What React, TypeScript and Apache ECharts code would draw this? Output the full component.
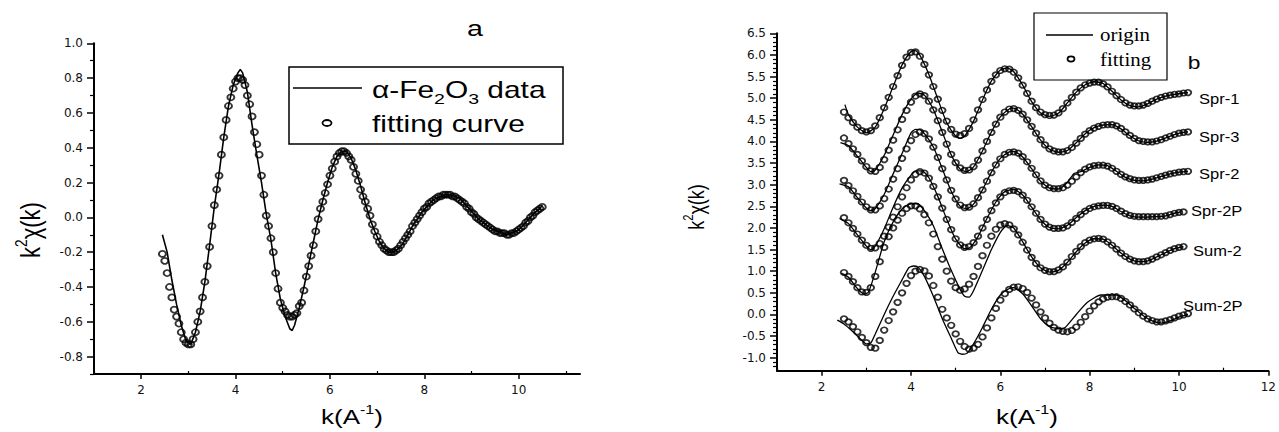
import React, { useEffect, useRef } from 'react';
import * as echarts from 'echarts';

// ================= Panel a : alpha-Fe2O3 =================
const lineA: number[][] = [
  [2.45,-0.10],[2.55,-0.20],[2.65,-0.36],[2.75,-0.50],[2.85,-0.62],[2.95,-0.71],[3.05,-0.73],[3.15,-0.66],[3.25,-0.54],[3.35,-0.37],
  [3.45,-0.16],[3.55,0.06],[3.65,0.25],[3.75,0.46],[3.85,0.64],[3.95,0.76],[4.05,0.83],[4.10,0.85],[4.15,0.83],[4.25,0.72],
  [4.35,0.53],[4.45,0.36],[4.55,0.20],[4.65,0.02],[4.75,-0.13],[4.85,-0.32],[4.95,-0.47],[5.05,-0.57],[5.15,-0.64],[5.20,-0.65],
  [5.25,-0.62],[5.35,-0.52],[5.45,-0.40],[5.55,-0.27],[5.65,-0.14],[5.75,-0.01],[5.85,0.10],[5.95,0.20],[6.05,0.29],[6.15,0.35],
  [6.25,0.38],[6.35,0.38],[6.45,0.34],[6.55,0.27],[6.65,0.18],[6.75,0.08],[6.85,-0.01],[6.95,-0.08],[7.05,-0.14],[7.15,-0.18],
  [7.25,-0.20],[7.35,-0.20],[7.45,-0.18],[7.55,-0.15],[7.65,-0.10],[7.75,-0.05],[7.85,-0.01],[7.95,0.03],[8.05,0.06],[8.15,0.09],
  [8.25,0.11],[8.35,0.12],[8.45,0.13],[8.55,0.13],[8.65,0.12],[8.75,0.11],[8.85,0.08],[8.95,0.05],[9.05,0.02],[9.15,-0.01],
  [9.25,-0.03],[9.35,-0.05],[9.45,-0.07],[9.55,-0.08],[9.65,-0.09],[9.75,-0.10],[9.85,-0.09],[9.95,-0.08],[10.05,-0.06],[10.15,-0.03],
  [10.25,0.00],[10.35,0.03],[10.45,0.05],[10.50,0.07]
];

const fitA: number[][] = [
  [2.45,-0.21],[2.50,-0.25],[2.55,-0.32],[2.60,-0.40],[2.65,-0.46],[2.70,-0.53],[2.75,-0.57],[2.80,-0.61],[2.85,-0.66],[2.90,-0.70],
  [2.95,-0.72],[3.00,-0.73],[3.05,-0.73],[3.10,-0.70],[3.15,-0.66],[3.20,-0.60],[3.25,-0.54],[3.30,-0.46],[3.35,-0.37],[3.40,-0.28],
  [3.45,-0.17],[3.50,-0.05],[3.55,0.07],[3.60,0.16],[3.65,0.24],[3.70,0.36],[3.75,0.46],[3.80,0.56],[3.85,0.64],[3.90,0.69],
  [3.95,0.74],[4.00,0.78],[4.05,0.80],[4.10,0.80],[4.15,0.79],[4.20,0.76],[4.25,0.70],[4.30,0.65],[4.35,0.58],[4.40,0.49],
  [4.45,0.42],[4.50,0.36],[4.55,0.24],[4.60,0.13],[4.65,0.01],[4.70,-0.05],[4.75,-0.12],[4.80,-0.20],[4.85,-0.32],[4.90,-0.41],
  [4.95,-0.49],[5.00,-0.52],[5.05,-0.54],[5.10,-0.56],[5.15,-0.57],[5.20,-0.57],[5.25,-0.56],[5.30,-0.55],[5.35,-0.51],[5.40,-0.49],
  [5.45,-0.42],[5.50,-0.34],[5.55,-0.28],[5.60,-0.22],[5.65,-0.16],[5.70,-0.08],[5.75,-0.01],[5.80,0.05],[5.85,0.09],[5.90,0.14],
  [5.95,0.19],[6.00,0.24],[6.05,0.28],[6.10,0.32],[6.15,0.35],[6.20,0.37],[6.25,0.38],[6.30,0.38],[6.35,0.37],[6.40,0.35],
  [6.45,0.33],[6.50,0.29],[6.55,0.25],[6.60,0.21],[6.65,0.16],[6.70,0.12],[6.75,0.09],[6.80,0.05],[6.85,0.01],[6.90,-0.04],
  [6.95,-0.08],[7.00,-0.11],[7.05,-0.14],[7.10,-0.16],[7.15,-0.18],[7.20,-0.19],[7.25,-0.20],[7.30,-0.20],[7.35,-0.20],[7.40,-0.19],
  [7.45,-0.18],[7.50,-0.16],[7.55,-0.14],[7.60,-0.12],[7.65,-0.10],[7.70,-0.08],[7.75,-0.05],[7.80,-0.03],[7.85,-0.01],[7.90,0.01],
  [7.95,0.03],[8.00,0.05],[8.05,0.06],[8.10,0.08],[8.15,0.09],[8.20,0.10],[8.25,0.11],[8.30,0.12],[8.35,0.12],[8.40,0.13],
  [8.45,0.13],[8.50,0.13],[8.55,0.13],[8.60,0.12],[8.65,0.12],[8.70,0.11],[8.75,0.10],[8.80,0.09],[8.85,0.08],[8.90,0.06],
  [8.95,0.05],[9.00,0.03],[9.05,0.02],[9.10,0.00],[9.15,-0.01],[9.20,-0.02],[9.25,-0.03],[9.30,-0.04],[9.35,-0.05],[9.40,-0.06],
  [9.45,-0.07],[9.50,-0.08],[9.55,-0.08],[9.60,-0.09],[9.65,-0.09],[9.70,-0.09],[9.75,-0.10],[9.80,-0.10],[9.85,-0.09],[9.90,-0.09],
  [9.95,-0.08],[10.00,-0.07],[10.05,-0.06],[10.10,-0.05],[10.15,-0.03],[10.20,-0.02],[10.25,0.00],[10.30,0.01],[10.35,0.03],[10.40,0.04],
  [10.45,0.05],[10.50,0.06]
];

const xMajorA = [2, 4, 6, 8, 10];
const xMinorA = [1, 3, 5, 7, 9, 11];
const yMajorA = [-0.8, -0.6, -0.4, -0.2, 0, 0.2, 0.4, 0.6, 0.8, 1.0];
const yMinorA = [-0.9, -0.7, -0.5, -0.3, -0.1, 0.1, 0.3, 0.5, 0.7, 0.9];

// ================= Panel b : samples =================
const samplesB = ['Spr-1', 'Spr-3', 'Spr-2', 'Spr-2P', 'Sum-2', 'Sum-2P'];

const kFitB = [
  2.5,2.6,2.7,2.8,2.9,3.0,3.1,3.2,3.3,3.4,
  3.5,3.6,3.7,3.8,3.9,4.0,4.1,4.2,4.3,4.4,
  4.5,4.6,4.7,4.8,4.9,5.0,5.1,5.2,5.3,5.4,
  5.5,5.6,5.7,5.8,5.9,6.0,6.1,6.2,6.3,6.4,
  6.5,6.6,6.7,6.8,6.9,7.0,7.1,7.2,7.3,7.4,
  7.5,7.6,7.7,7.8,7.9,8.0,8.1,8.2,8.3,8.4,
  8.5,8.6,8.7,8.8,8.9,9.0,9.1,9.2,9.3,9.4,
  9.5,9.6,9.7,9.8,9.9,10.0,10.1,10.2
];

const fitSpr1 = [
  4.68,4.55,4.44,4.33,4.25,4.22,4.25,4.36,4.55,4.78,
  5.02,5.27,5.52,5.76,5.95,6.06,6.07,5.97,5.78,5.54,
  5.27,4.98,4.72,4.47,4.28,4.17,4.14,4.18,4.30,4.50,
  4.73,4.97,5.19,5.39,5.54,5.64,5.68,5.67,5.60,5.47,
  5.30,5.11,4.93,4.78,4.68,4.62,4.60,4.61,4.66,4.76,
  4.89,5.02,5.14,5.24,5.31,5.35,5.37,5.37,5.33,5.26,
  5.16,5.06,4.97,4.89,4.84,4.82,4.82,4.84,4.88,4.93,
  4.98,5.02,5.05,5.07,5.09,5.10,5.12,5.13
];
const fitSpr3 = [
  4.08,3.95,3.83,3.70,3.55,3.42,3.32,3.31,3.40,3.58,
  3.80,4.03,4.27,4.51,4.72,4.91,5.05,5.10,5.06,4.93,
  4.73,4.48,4.21,3.94,3.70,3.51,3.39,3.33,3.34,3.42,
  3.57,3.78,4.00,4.21,4.40,4.56,4.68,4.75,4.76,4.72,
  4.63,4.50,4.35,4.19,4.04,3.92,3.83,3.78,3.76,3.76,
  3.79,3.86,3.96,4.07,4.17,4.25,4.31,4.35,4.38,4.39,
  4.39,4.36,4.30,4.22,4.14,4.07,4.02,4.00,3.99,3.99,
  4.01,4.04,4.08,4.12,4.16,4.19,4.21,4.22
];
const fitSpr2 = [
  3.10,2.98,2.86,2.73,2.60,2.49,2.42,2.42,2.51,2.68,
  2.90,3.13,3.37,3.61,3.83,4.02,4.16,4.22,4.18,4.06,
  3.87,3.63,3.37,3.11,2.87,2.67,2.53,2.47,2.48,2.56,
  2.70,2.88,3.08,3.28,3.46,3.60,3.70,3.75,3.76,3.73,
  3.65,3.53,3.38,3.23,3.09,2.99,2.93,2.91,2.91,2.93,
  2.99,3.08,3.18,3.28,3.36,3.41,3.44,3.45,3.45,3.43,
  3.38,3.31,3.24,3.18,3.14,3.11,3.10,3.10,3.11,3.13,
  3.16,3.19,3.22,3.25,3.27,3.29,3.30,3.31
];
const fitSpr2P = [
  2.24,2.12,1.99,1.86,1.72,1.60,1.53,1.54,1.64,1.81,
  2.02,2.25,2.49,2.72,2.93,3.11,3.24,3.30,3.27,3.15,
  2.96,2.72,2.46,2.20,1.96,1.75,1.61,1.55,1.57,1.66,
  1.81,2.00,2.20,2.40,2.58,2.72,2.82,2.86,2.87,2.84,
  2.76,2.64,2.49,2.34,2.20,2.09,2.02,1.99,1.99,2.00,
  2.05,2.13,2.22,2.31,2.39,2.45,2.49,2.51,2.52,2.52,
  2.50,2.45,2.39,2.33,2.29,2.27,2.26,2.26,2.26,2.26,
  2.26,2.27,2.28,2.31,2.34,2.36,2.37,null
];
const fitSum2 = [
  0.97,0.88,0.76,0.62,0.52,0.51,0.62,0.88,1.22,1.55,
  1.80,2.00,2.18,2.34,2.45,2.51,2.51,2.44,2.31,2.12,
  1.86,1.57,1.28,1.00,0.77,0.62,0.56,0.59,0.70,0.88,
  1.11,1.36,1.60,1.81,1.97,2.07,2.10,2.07,1.98,1.84,
  1.67,1.49,1.32,1.18,1.08,1.02,0.99,0.99,1.03,1.10,
  1.21,1.34,1.46,1.57,1.66,1.72,1.75,1.76,1.74,1.68,
  1.60,1.51,1.42,1.34,1.28,1.24,1.22,1.22,1.24,1.28,
  1.33,1.38,1.43,1.48,1.52,1.55,1.57,null
];
const fitSum2P = [
  -0.10,-0.17,-0.28,-0.40,-0.53,-0.65,-0.76,-0.78,-0.60,-0.36,
  -0.14,0.06,0.28,0.50,0.72,0.90,1.00,1.04,1.01,0.89,
  0.67,0.40,0.12,-0.08,-0.25,-0.45,-0.62,-0.74,-0.80,-0.78,
  -0.69,-0.52,-0.31,-0.08,0.14,0.33,0.48,0.58,0.63,0.64,
  0.60,0.51,0.38,0.22,0.06,-0.08,-0.20,-0.30,-0.36,-0.39,
  -0.40,-0.37,-0.29,-0.18,-0.05,0.08,0.20,0.29,0.36,0.40,
  0.41,0.41,0.37,0.30,0.22,0.13,0.04,-0.04,-0.10,-0.14,
  -0.17,-0.17,-0.15,-0.12,-0.08,-0.04,-0.01,0.02
];

const lineSpr1: number[][] = [
  [2.52,4.85],[2.6,4.62],[2.8,4.33],[3.0,4.20],[3.2,4.33],[3.4,4.76],[3.6,5.27],[3.8,5.77],[4.0,6.08],[4.1,6.10],
  [4.2,5.99],[4.4,5.55],[4.6,4.98],[4.8,4.43],[5.0,4.12],[5.1,4.07],[5.2,4.12],[5.4,4.47],[5.6,4.96],[5.8,5.40],
  [6.0,5.65],[6.15,5.70],[6.3,5.61],[6.5,5.30],[6.7,4.92],[6.9,4.66],[7.1,4.58],[7.3,4.65],[7.5,4.89],[7.7,5.14],
  [7.9,5.31],[8.1,5.38],[8.3,5.34],[8.5,5.16],[8.7,4.96],[8.9,4.83],[9.1,4.80],[9.3,4.87],[9.5,4.98],[9.7,5.05],
  [9.9,5.09],[10.1,5.12],[10.2,5.13]
];
const lineSpr3: number[][] = [
  [2.42,3.97],[2.6,3.90],[2.8,3.66],[3.0,3.40],[3.1,3.30],[3.2,3.34],[3.4,3.68],[3.6,4.15],[3.8,4.62],[4.0,4.98],
  [4.15,5.12],[4.3,5.07],[4.5,4.74],[4.7,4.22],[4.9,3.69],[5.1,3.36],[5.25,3.30],[5.4,3.41],[5.6,3.78],[5.8,4.22],
  [6.0,4.57],[6.2,4.75],[6.3,4.77],[6.5,4.63],[6.7,4.34],[6.9,4.03],[7.1,3.82],[7.3,3.75],[7.5,3.79],[7.7,3.97],
  [7.9,4.18],[8.1,4.32],[8.3,4.38],[8.5,4.39],[8.7,4.29],[8.9,4.13],[9.1,4.01],[9.3,3.98],[9.5,4.01],[9.7,4.08],
  [9.9,4.16],[10.1,4.21],[10.2,4.22]
];
const lineSpr2: number[][] = [
  [2.4,3.02],[2.6,2.95],[2.8,2.70],[3.0,2.46],[3.1,2.40],[3.2,2.45],[3.4,2.78],[3.6,3.25],[3.8,3.72],[4.0,4.20],
  [4.1,4.28],[4.2,4.27],[4.3,4.18],[4.5,3.87],[4.7,3.37],[4.9,2.85],[5.1,2.50],[5.25,2.44],[5.4,2.55],[5.6,2.88],
  [5.8,3.29],[6.0,3.61],[6.2,3.76],[6.3,3.77],[6.5,3.64],[6.7,3.37],[6.9,3.08],[7.1,2.92],[7.3,2.90],[7.5,3.05],
  [7.65,3.26],[7.8,3.30],[8.0,3.40],[8.2,3.46],[8.4,3.44],[8.6,3.31],[8.8,3.17],[9.0,3.10],[9.2,3.09],[9.4,3.13],
  [9.6,3.19],[9.8,3.25],[10.0,3.29],[10.2,3.31]
];
const lineSpr2P: number[][] = [
  [2.4,2.22],[2.6,2.10],[2.8,1.84],[3.0,1.58],[3.1,1.50],[3.2,1.58],[3.4,1.98],[3.6,2.48],[3.8,2.92],[4.0,3.22],
  [4.1,3.32],[4.25,3.32],[4.4,3.16],[4.6,2.73],[4.8,2.20],[5.0,1.74],[5.2,1.52],[5.3,1.53],[5.5,1.80],[5.7,2.22],
  [5.9,2.60],[6.1,2.84],[6.3,2.89],[6.5,2.76],[6.7,2.48],[6.9,2.19],[7.1,2.01],[7.3,1.98],[7.5,2.06],[7.7,2.24],
  [7.9,2.40],[8.1,2.50],[8.3,2.53],[8.5,2.50],[8.7,2.38],[8.9,2.28],[9.1,2.25],[9.3,2.25],[9.5,2.26],[9.7,2.28],
  [9.9,2.34],[10.05,2.37]
];
const lineSum2: number[][] = [
  [2.45,0.95],[2.6,0.86],[2.8,0.60],[2.95,0.47],[3.05,0.52],[3.2,0.98],[3.4,1.68],[3.6,2.14],[3.8,2.44],[4.0,2.56],
  [4.15,2.56],[4.3,2.40],[4.5,2.05],[4.7,1.52],[4.9,1.02],[5.1,0.58],[5.2,0.42],[5.3,0.40],[5.4,0.55],[5.6,1.02],
  [5.8,1.50],[6.0,1.90],[6.15,2.06],[6.3,2.00],[6.5,1.68],[6.7,1.33],[6.9,1.08],[7.1,0.98],[7.3,1.02],[7.5,1.20],
  [7.7,1.45],[7.9,1.65],[8.1,1.75],[8.3,1.74],[8.5,1.60],[8.7,1.42],[8.9,1.28],[9.1,1.22],[9.3,1.24],[9.5,1.33],
  [9.7,1.43],[9.9,1.52],[10.1,1.57]
];
const lineSum2P: number[][] = [
  [2.35,-0.13],[2.5,-0.22],[2.7,-0.40],[2.9,-0.60],[3.0,-0.68],[3.1,-0.66],[3.2,-0.45],[3.4,0.00],[3.6,0.42],[3.8,0.80],
  [3.95,1.08],[4.05,1.12],[4.15,1.10],[4.3,0.88],[4.5,0.42],[4.7,-0.10],[4.9,-0.55],[5.05,-0.88],[5.15,-0.92],[5.25,-0.90],
  [5.4,-0.68],[5.6,-0.30],[5.8,0.12],[6.0,0.45],[6.2,0.60],[6.3,0.62],[6.5,0.48],[6.7,0.20],[6.9,-0.10],[7.1,-0.28],
  [7.3,-0.33],[7.45,-0.30],[7.7,0.00],[7.95,0.28],[8.25,0.45],[8.6,0.45],[8.8,0.32],[9.0,0.14],[9.2,-0.03],[9.4,-0.15],
  [9.6,-0.20],[9.8,-0.15],[10.0,-0.06],[10.2,0.00]
];

const fitsB = [fitSpr1, fitSpr3, fitSpr2, fitSpr2P, fitSum2, fitSum2P];
const linesB = [lineSpr1, lineSpr3, lineSpr2, lineSpr2P, lineSum2, lineSum2P];

const xMajorB = [2, 4, 6, 8, 10, 12];
const xMinorB = [1, 3, 5, 7, 9, 11];
const yMajorB = [-1.0, -0.5, 0, 0.5, 1.0, 1.5, 2.0, 2.5, 3.0, 3.5, 4.0, 4.5, 5.0, 5.5, 6.0, 6.5];

// sample label anchors (left edge, vertical centre) in px
const sampleLabelPos = [
  [1199, 99], [1199, 137], [1199, 174], [1191, 211], [1193, 251], [1183, 306]
];

const SANS = 'Liberation Sans, Arial, sans-serif';
const SERIF = 'Liberation Serif, Times New Roman, serif';
const TICKFONT = 'DejaVu Sans, sans-serif';

function yMinorTicksB(): number[] {
  const out: number[] = [];
  for (let i = -12; i <= 64; i++) {
    if (i % 5 !== 0) out.push(i / 10);
  }
  return out;
}

function axisPair(dim: 'x' | 'y', grid: number, min: number, max: number, major: number[], minor: number[], fmt: (v: number) => string) {
  const pos = dim === 'x' ? 'bottom' : 'left';
  const base = { gridIndex: grid, type: 'value', min, max, position: pos, splitLine: { show: false } };
  const majorAxis = {
    ...base,
    axisLine: { show: true, onZero: false, lineStyle: { color: '#000', width: 2 } },
    axisTick: { show: true, customValues: major, length: dim === 'x' ? 5 : 7, lineStyle: { color: '#000', width: 1.5 } },
    axisLabel: {
      show: true, customValues: major, formatter: fmt, color: '#111',
      fontFamily: TICKFONT, fontSize: 12, margin: dim === 'x' ? 10 : 11,
    },
  };
  const minorAxis = {
    ...base,
    axisLine: { show: false, onZero: false },
    axisTick: { show: true, customValues: minor, inside: dim === 'x', length: dim === 'x' ? 3 : 4, lineStyle: { color: '#000', width: 1.2 } },
    axisLabel: { show: false },
  };
  return [majorAxis, minorAxis];
}

function text(x: number, y: number, str: string, size: number, opts: any = {}) {
  return {
    type: 'text', x, y, scaleX: opts.scaleX ?? 1, scaleY: opts.scaleY ?? 1, rotation: opts.rotation ?? 0,
    style: {
      text: str, fill: '#000', fontSize: size, fontFamily: opts.font ?? SANS,
      align: opts.align ?? 'left', verticalAlign: 'middle', rich: opts.rich,
    },
  };
}

function supRich(size: number) {
  return {
    n: { fontSize: size, fontFamily: SANS, lineHeight: size * 1.3, fill: '#000' },
    s: { fontSize: size * 0.62, fontFamily: SANS, lineHeight: size * 0.62, verticalAlign: 'top', fill: '#000' },
  };
}

function buildOption() {
  const oneDec = (v: number) => v.toFixed(1);
  const intFmt = (v: number) => String(Math.round(v));

  const [xa0, xa1] = axisPair('x', 0, 1, 11.3, xMajorA, xMinorA, intFmt);
  const [ya0, ya1] = axisPair('y', 0, -0.9, 1.0, yMajorA, yMinorA, oneDec);
  const [xb0, xb1] = axisPair('x', 1, 1, 12, xMajorB, xMinorB, intFmt);
  const [yb0, yb1] = axisPair('y', 1, -1.3, 6.5, yMajorB, yMinorTicksB(), oneDec);

  const hollow = { color: 'rgba(0,0,0,0)', borderColor: '#000', borderWidth: 1.8 };

  const series: any[] = [
    {
      type: 'line', name: 'α-Fe2O3 data', xAxisIndex: 0, yAxisIndex: 0, data: lineA,
      showSymbol: false, symbol: 'none', lineStyle: { color: '#000', width: 1.6 }, z: 2,
    },
    {
      type: 'scatter', name: 'fitting curve', xAxisIndex: 0, yAxisIndex: 0, data: fitA,
      symbol: 'circle', symbolSize: [7, 6], itemStyle: hollow, z: 3,
    },
  ];

  samplesB.forEach((name, i) => {
    series.push({
      type: 'line', name: name + ' origin', xAxisIndex: 2, yAxisIndex: 2, data: linesB[i],
      showSymbol: false, symbol: 'none', smooth: 0.2, lineStyle: { color: '#000', width: 1.3 }, z: 2,
    });
    const pts: number[][] = [];
    kFitB.forEach((k, j) => {
      const v = fitsB[i][j];
      if (v !== null && v !== undefined) pts.push([k, v]);
    });
    series.push({
      type: 'scatter', name: name + ' fitting', xAxisIndex: 2, yAxisIndex: 2, data: pts,
      symbol: 'circle', symbolSize: [6.5, 5.5], itemStyle: { ...hollow, borderWidth: 1.8 }, z: 3,
    });
  });

  const legendA = [
    { type: 'rect', shape: { x: 289, y: 67, width: 274, height: 77 }, style: { fill: 'none', stroke: '#000', lineWidth: 1.5 } },
    { type: 'line', shape: { x1: 293, y1: 88, x2: 362, y2: 88 }, style: { stroke: '#000', lineWidth: 1.6 } },
    { type: 'ellipse', shape: { cx: 327, cy: 123, rx: 4.5, ry: 3 }, style: { fill: 'none', stroke: '#000', lineWidth: 1.8 } },
    text(372, 90, '{n|α-Fe}{b|2}{n|O}{b|3}{n| data}', 23, {
      scaleX: 1.3,
      rich: {
        n: { fontSize: 23, fontFamily: SANS, lineHeight: 32, fill: '#000' },
        b: { fontSize: 15, fontFamily: SANS, lineHeight: 10, verticalAlign: 'bottom', fill: '#000' },
      },
    }),
    text(372, 124, 'fitting curve', 23, { scaleX: 1.3 }),
  ];

  const legendB = [
    { type: 'rect', shape: { x: 1034, y: 13, width: 133, height: 67 }, style: { fill: 'none', stroke: '#000', lineWidth: 1.2 } },
    { type: 'line', shape: { x1: 1046, y1: 35, x2: 1093, y2: 35 }, style: { stroke: '#000', lineWidth: 1.4 } },
    { type: 'ellipse', shape: { cx: 1071, cy: 59, rx: 3.5, ry: 2.6 }, style: { fill: 'none', stroke: '#000', lineWidth: 1.7 } },
    text(1100, 34, 'origin', 19, { font: SERIF, scaleX: 1.1 }),
    text(1100, 59, 'fitting', 19, { font: SERIF, scaleX: 1.1 }),
  ];

  const names = [
    text(475, 28, 'a', 22, { align: 'center', scaleX: 1.3 }),
    text(1194, 62, 'b', 19, { align: 'center', scaleX: 1.2 }),
    text(352, 417, '{n|k(A}{s|-1}{n|)}', 20, { align: 'center', scaleX: 1.3, rich: supRich(20) }),
    text(1027, 417, '{n|k(A}{s|-1}{n|)}', 20, { align: 'center', scaleX: 1.3, rich: supRich(20) }),
    text(30, 230, '{n|k}{s|2}{n|χ(k)}', 22, { align: 'center', rotation: Math.PI / 2, scaleY: 1.25, rich: supRich(22) }),
    text(696, 207, '{n|k}{s|2}{n|χ(k)}', 18, { align: 'center', rotation: Math.PI / 2, scaleY: 1.25, rich: supRich(18) }),
  ];

  const sampleLabels = samplesB.map((name, i) =>
    text(sampleLabelPos[i][0], sampleLabelPos[i][1], name, 15, { scaleX: 1.1 })
  );

  return {
    animation: false,
    backgroundColor: '#fff',
    textStyle: { fontFamily: SANS },
    grid: [
      { left: 94, top: 43.3, width: 486, height: 330.7, containLabel: false },
      { left: 777, top: 33.3, width: 500, height: 337.4, containLabel: false },
    ],
    xAxis: [xa0, xa1, xb0, xb1],
    yAxis: [ya0, ya1, yb0, yb1],
    series,
    graphic: [...legendA, ...legendB, ...names, ...sampleLabels],
  };
}

export default function App() {
  const ref = useRef<HTMLDivElement>(null);
  useEffect(() => {
    if (!ref.current) return;
    const chart = echarts.init(ref.current, null, { renderer: 'svg' });
    chart.setOption(buildOption() as any);
    return () => {
      chart.dispose();
    };
  }, []);
  return (
    <div
      ref={ref}
      style={{ position: 'absolute', left: 0, top: 0, width: 1279, height: 432, background: '#fff' }}
    />
  );
}
